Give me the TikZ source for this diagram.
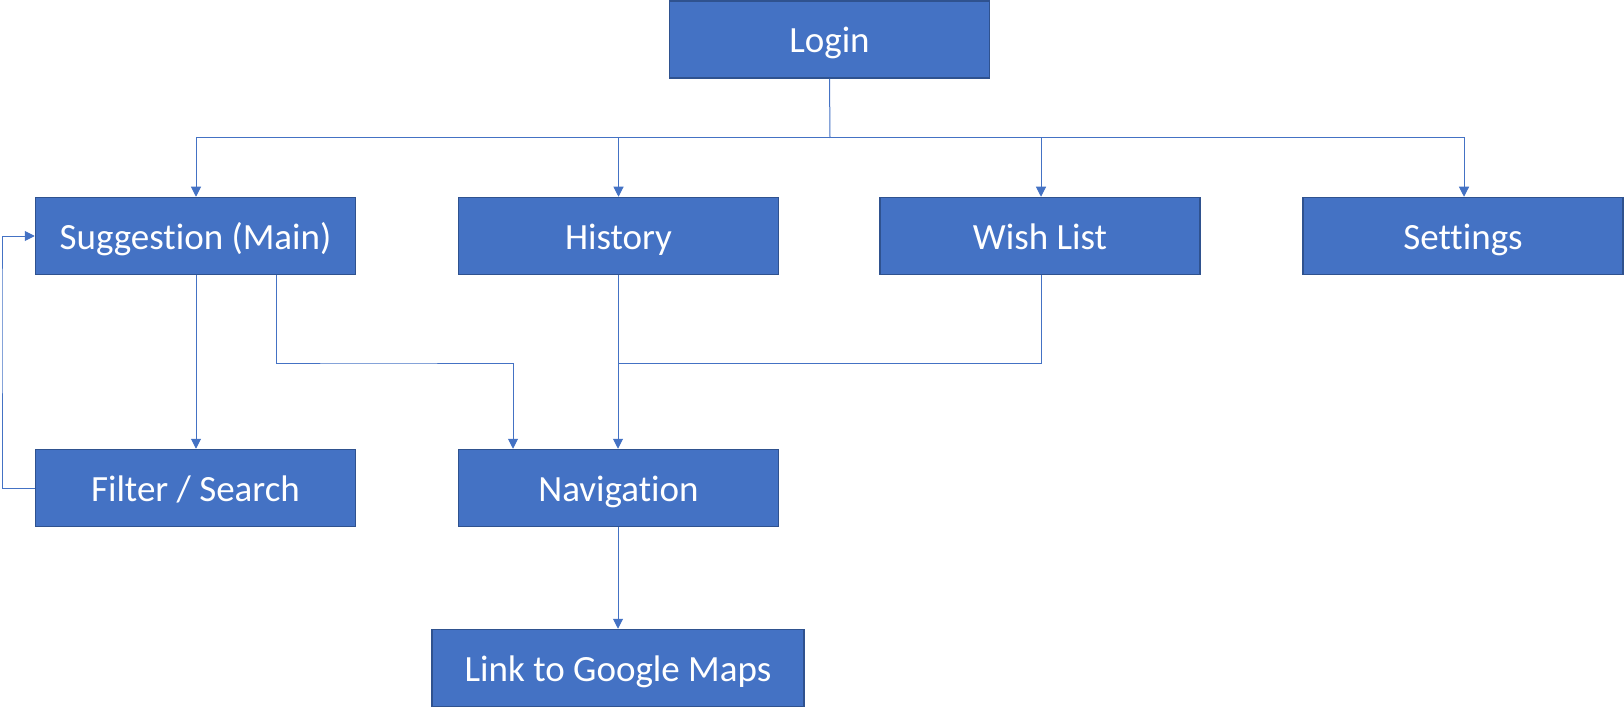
\documentclass[tikz,border=0pt]{standalone}
\usepackage{fontspec}
\setmainfont{Carlito}[Ligatures=CommonOff]
\usetikzlibrary{arrows.meta}
\definecolor{boxfill}{HTML}{4472C4}
\definecolor{boxline}{HTML}{2F528F}
\definecolor{conn}{HTML}{4472C4}
\begin{document}
\begin{tikzpicture}[x=1pt,y=-1pt,
  box/.style={draw=boxline,fill=boxfill,line width=1.5pt,minimum width=320pt,minimum height=77pt,inner sep=0pt,text height=27pt,text depth=0pt,text=white,font=\fontsize{37}{44}\selectfont},
  link/.style={draw=conn,line width=1pt},
  arr/.style={link,-{Triangle[width=10pt,length=10pt]}}]
\useasboundingbox (0,0) rectangle (1624,714);
\node[box] (login) at (829.5,39.5) {Login};
\node[box] (sugg) at (195.5,236) {Suggestion (Main)};
\node[box] (hist) at (618.5,236) {History};
\node[box] (wish) at (1040,236) {Wish List};
\node[box] (sett) at (1463,236) {Settings};
\node[box] (filt) at (195.5,488) {Filter / Search};
\node[box] (navi) at (618.5,488) {Navigation};
\node[box,minimum width=372pt] (gmap) at (618,668) {Link to Google Maps};
\coordinate (bus) at (830,138);
\coordinate (join) at (618,363);
\draw[link] (login.south) -- (bus);
\draw[arr] (bus) -| ([xshift=0.5pt]sugg.north);
\draw[arr] (bus) -| (hist.north);
\draw[arr] (bus) -| ([xshift=1pt]wish.north);
\draw[arr] (bus) -| ([xshift=1pt]sett.north);
\draw[arr] ([xshift=0.5pt]sugg.south) -- ([xshift=0.5pt]filt.north);
\draw[arr] ([xshift=81pt]sugg.south) |- (363,363) -| ([xshift=-105.5pt]navi.north);
\draw[arr] ([xshift=-0.5pt]hist.south) -- ([xshift=-0.5pt]navi.north);
\draw[link] ([xshift=1pt]wish.south) |- (join);
\draw[arr] (filt.west) -| (2,300) |- (sugg.west);
\draw[arr] ([xshift=-0.5pt]navi.south) -- ([xshift=-0.5pt]navi.south |- gmap.north);
\end{tikzpicture}
\end{document}
